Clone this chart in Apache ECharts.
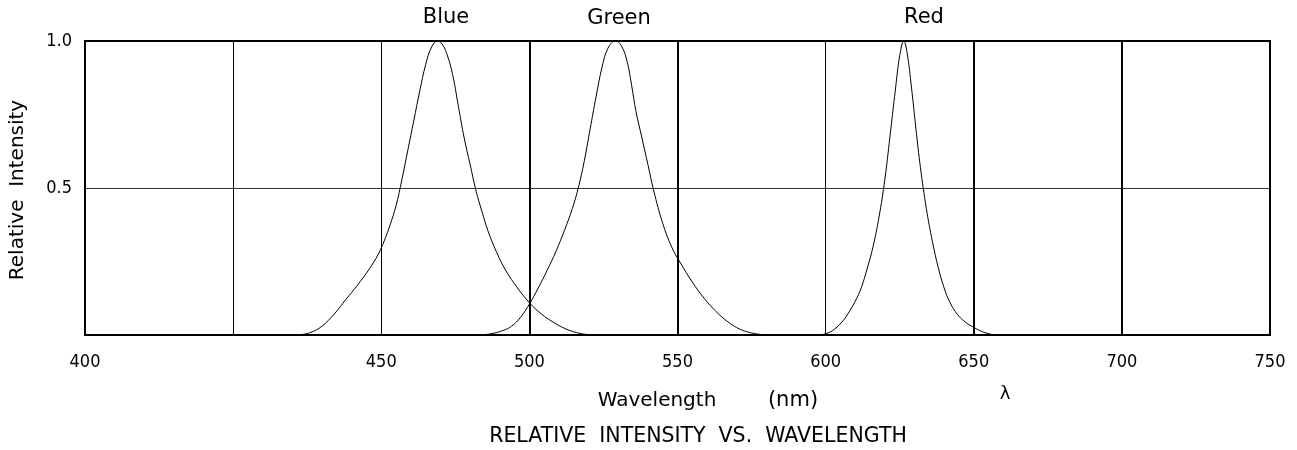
<!DOCTYPE html>
<html>
<head>
<meta charset="utf-8">
<script src="https://cdn.jsdelivr.net/npm/echarts@6/dist/echarts.min.js"></script>
<style>html,body{margin:0;padding:0;background:#fff}#c{width:1297px;height:450px}</style>
</head>
<body>
<div id="c"></div>
<script>
// x tick labels for the axis values 350..750 step 50 (original chart labels its left edge "400")
var xTickValues = [350, 400, 450, 500, 550, 600, 650, 700, 750];
var xTickLabels = ['400', '', '450', '500', '550', '600', '650', '700', '750'];
var yTickValues = [0, 0.5, 1];
var yTickLabels = ['', '0.5', '1.0'];
var boldGridX = [500, 550, 650, 700];

var blue = [[422,0],[426,0.008],[430,0.03],[434,0.07],[438,0.12],[442,0.17],[446,0.225],[449,0.275],[451,0.32],[453,0.375],[455,0.44],[457,0.53],[459,0.63],[461,0.73],[463,0.83],[465,0.92],[467,0.98],[469,1.0],[470.5,0.99],[472,0.96],[474,0.89],[476,0.78],[478,0.67],[480,0.58],[482,0.49],[484,0.42],[486,0.355],[489,0.28],[492,0.22],[496,0.16],[500,0.11],[504,0.072],[508,0.044],[512,0.022],[516,0.008],[520,0.001],[522,0]];
var green = [[483,0],[487,0.004],[491,0.015],[494,0.03],[497,0.06],[500,0.105],[503,0.16],[506,0.22],[509,0.285],[512,0.36],[514.5,0.43],[516.5,0.50],[518.5,0.59],[520.5,0.70],[522.5,0.81],[524.5,0.91],[526.5,0.975],[529,1.0],[531,0.985],[533,0.93],[534.5,0.85],[536,0.76],[538,0.67],[540,0.58],[542,0.49],[545,0.38],[548,0.30],[551,0.245],[555,0.18],[559,0.125],[563,0.08],[567,0.045],[571,0.02],[575,0.007],[579,0.001],[582,0]];
var red = [[597,0],[600,0.004],[603,0.02],[606,0.05],[608,0.08],[610,0.115],[612,0.16],[614,0.225],[616,0.30],[618,0.40],[620,0.53],[622,0.70],[623.5,0.83],[625,0.95],[626.4,1.0],[627.5,0.96],[629,0.84],[630.5,0.70],[632,0.57],[634,0.43],[636,0.32],[638,0.23],[640,0.16],[642,0.11],[644.5,0.07],[647,0.045],[650,0.026],[653,0.011],[656,0.002],[658,0]];

var SANS = '"DejaVu Sans", sans-serif';
var COND = '"DejaVu Sans Condensed", "DejaVu Sans", sans-serif';
var chart = echarts.init(document.getElementById('c'));
function lineSeries(name, data) {
  return {
    name: name, type: 'line', data: data, smooth: 0.4, showSymbol: false, symbol: 'none',
    lineStyle: { color: '#000', width: 1 }, silent: true, animation: false, z: 5
  };
}
var s0 = lineSeries('Blue', blue);
s0.markLine = {
  silent: true, symbol: 'none', label: { show: false }, animation: false,
  lineStyle: { color: '#000', width: 2, type: 'solid' },
  data: boldGridX.map(function (v) { return { xAxis: v }; })
};
function txt(x, y, text, size, font, rot) {
  var o = { type: 'text', x: x, y: y, style: { text: text, font: size + 'px ' + font, fill: '#000', align: 'center', verticalAlign: 'middle' } };
  if (rot) o.rotation = rot;
  return o;
}
chart.setOption({
  animation: false,
  backgroundColor: '#fff',
  grid: { left: 85, right: 27, top: 41, bottom: 115, show: true, borderColor: '#000', borderWidth: 2, backgroundColor: 'transparent', z: 10 },
  xAxis: {
    type: 'value', min: 350, max: 750, interval: 50,
    axisLine: { show: false }, axisTick: { show: false },
    axisLabel: {
      color: '#000', fontFamily: COND, fontSize: 18, margin: 18,
      formatter: function (v) { var i = xTickValues.indexOf(v); return i >= 0 ? xTickLabels[i] : ''; }
    },
    splitLine: { show: true, lineStyle: { color: '#000', width: 1 } }
  },
  yAxis: {
    type: 'value', min: 0, max: 1, interval: 0.5,
    axisLine: { show: false }, axisTick: { show: false },
    axisLabel: {
      color: '#000', fontFamily: COND, fontSize: 18, margin: 13,
      formatter: function (v) { var i = yTickValues.indexOf(v); return i >= 0 ? yTickLabels[i] : ''; }
    },
    splitLine: { show: true, lineStyle: { color: '#333', width: 1 } }
  },
  graphic: [
    txt(446, 18, 'Blue', 21, SANS),
    txt(619, 19, 'Green', 21, SANS),
    txt(924, 18, 'Red', 21, SANS),
    txt(657, 401, 'Wavelength', 20, SANS),
    txt(793, 401, '(nm)', 21, SANS),
    txt(1005, 394, 'λ', 18, SANS),
    txt(698, 437, 'RELATIVE  INTENSITY  VS.  WAVELENGTH', 20.5, SANS),
    txt(18, 190, 'Relative  Intensity', 20, SANS, Math.PI / 2)
  ],
  series: [s0, lineSeries('Green', green), lineSeries('Red', red)]
});
</script>
</body>
</html>
